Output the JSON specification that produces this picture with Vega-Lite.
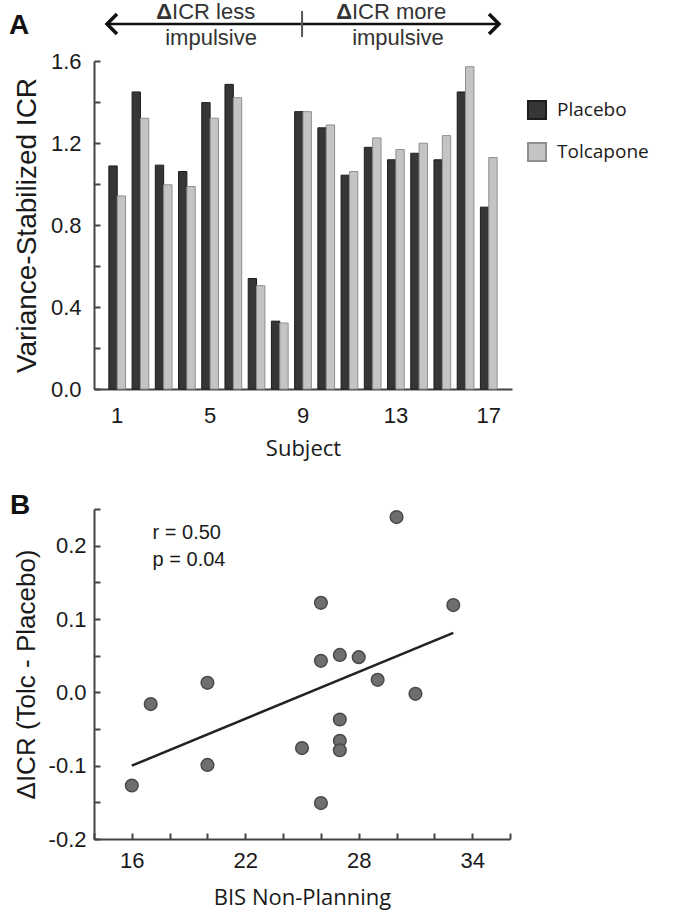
{
  "$schema": "https://vega.github.io/schema/vega-lite/v6.json",
  "background": "white",
  "padding": {"left": 9, "top": 0, "right": 2, "bottom": 2},
  "spacing": 120,
  "bounds": "flush",
  "config": {
    "view": {"stroke": null},
    "axis": {
      "grid": false,
      "domainColor": "#444444",
      "domainWidth": 2,
      "tickColor": "#444444",
      "tickWidth": 2,
      "labelColor": "#1a1a1a",
      "titleColor": "#1a1a1a",
      "titleFontWeight": "normal",
      "labelFont": "Liberation Sans",
      "labelFontSize": 22
    },
    "text": {"font": "Liberation Sans", "color": "#1a1a1a"}
  },
  "vconcat": [
    {
      "width": 418,
      "height": 328,
      "resolve": {"scale": {"x": "independent", "y": "independent"}},
      "layer": [
        {
          "data": {
            "values": [
              {"subject": 1, "treatment": "Placebo", "value": 1.088},
              {"subject": 1, "treatment": "Tolcapone", "value": 0.942},
              {"subject": 2, "treatment": "Placebo", "value": 1.449},
              {"subject": 2, "treatment": "Tolcapone", "value": 1.321},
              {"subject": 3, "treatment": "Placebo", "value": 1.092},
              {"subject": 3, "treatment": "Tolcapone", "value": 0.996},
              {"subject": 4, "treatment": "Placebo", "value": 1.061},
              {"subject": 4, "treatment": "Tolcapone", "value": 0.988},
              {"subject": 5, "treatment": "Placebo", "value": 1.397},
              {"subject": 5, "treatment": "Tolcapone", "value": 1.321},
              {"subject": 6, "treatment": "Placebo", "value": 1.486},
              {"subject": 6, "treatment": "Tolcapone", "value": 1.421},
              {"subject": 7, "treatment": "Placebo", "value": 0.539},
              {"subject": 7, "treatment": "Tolcapone", "value": 0.504},
              {"subject": 8, "treatment": "Placebo", "value": 0.331},
              {"subject": 8, "treatment": "Tolcapone", "value": 0.322},
              {"subject": 9, "treatment": "Placebo", "value": 1.353},
              {"subject": 9, "treatment": "Tolcapone", "value": 1.353},
              {"subject": 10, "treatment": "Placebo", "value": 1.274},
              {"subject": 10, "treatment": "Tolcapone", "value": 1.288},
              {"subject": 11, "treatment": "Placebo", "value": 1.043},
              {"subject": 11, "treatment": "Tolcapone", "value": 1.061},
              {"subject": 12, "treatment": "Placebo", "value": 1.179},
              {"subject": 12, "treatment": "Tolcapone", "value": 1.225},
              {"subject": 13, "treatment": "Placebo", "value": 1.118},
              {"subject": 13, "treatment": "Tolcapone", "value": 1.168},
              {"subject": 14, "treatment": "Placebo", "value": 1.150},
              {"subject": 14, "treatment": "Tolcapone", "value": 1.199},
              {"subject": 15, "treatment": "Placebo", "value": 1.118},
              {"subject": 15, "treatment": "Tolcapone", "value": 1.236},
              {"subject": 16, "treatment": "Placebo", "value": 1.449},
              {"subject": 16, "treatment": "Tolcapone", "value": 1.572},
              {"subject": 17, "treatment": "Placebo", "value": 0.887},
              {"subject": 17, "treatment": "Tolcapone", "value": 1.129}
            ]
          },
          "mark": {"type": "bar", "strokeWidth": 1},
          "encoding": {
            "x": {
              "field": "subject",
              "type": "ordinal",
              "scale": {"paddingInner": 0.28, "paddingOuter": 0.64},
              "axis": {
                "values": [1, 5, 9, 13, 17],
                "labelAngle": 0,
                "ticks": false,
                "labelPadding": 16,
                "title": "Subject",
                "titleFont": "Open Sans",
                "titleFontSize": 22,
                "titlePadding": 12
              }
            },
            "xOffset": {
              "field": "treatment",
              "type": "nominal",
              "scale": {"domain": ["Placebo", "Tolcapone"], "paddingInner": 0, "paddingOuter": 0}
            },
            "y": {
              "field": "value",
              "type": "quantitative",
              "scale": {"domain": [0, 1.6], "nice": false},
              "axis": {
                "values": [0, 0.2, 0.4, 0.6, 0.8, 1.0, 1.2, 1.4, 1.6],
                "labelExpr": "round(datum.value*10) % 4 == 0 ? format(datum.value, '.1f') : ''",
                "tickSize": -6,
                "labelPadding": 19,
                "title": "Variance-Stabilized ICR",
                "titleFont": "Liberation Sans",
                "titleFontSize": 28,
                "titlePadding": 9
              }
            },
            "fill": {
              "field": "treatment",
              "type": "nominal",
              "scale": {"domain": ["Placebo", "Tolcapone"], "range": ["#363636", "#c4c4c4"]},
              "legend": {
                "title": null,
                "orient": "none",
                "legendX": 433,
                "legendY": 39,
                "padding": 0,
                "symbolType": "square",
                "symbolSize": 324,
                "symbolStrokeWidth": 2,
                "labelFont": "Open Sans",
                "labelFontSize": 19,
                "labelColor": "#1a1a1a",
                "labelOffset": 10,
                "rowPadding": 16
              }
            },
            "stroke": {
              "field": "treatment",
              "type": "nominal",
              "scale": {"domain": ["Placebo", "Tolcapone"], "range": ["#1c1c1c", "#8f8f8f"]},
              "legend": {
                "title": null,
                "orient": "none",
                "legendX": 433,
                "legendY": 39,
                "padding": 0,
                "symbolType": "square",
                "symbolSize": 324,
                "symbolStrokeWidth": 2,
                "labelFont": "Open Sans",
                "labelFontSize": 19,
                "labelColor": "#1a1a1a",
                "labelOffset": 10,
                "rowPadding": 16
              }
            }
          }
        },
        {
          "encoding": {
            "x": {"field": "hx", "type": "quantitative", "scale": {"domain": [0, 18], "nice": false, "zero": false}, "axis": null},
            "y": {"field": "hy", "type": "quantitative", "scale": {"domain": [0, 1.6], "nice": false, "zero": false}, "axis": null}
          },
          "layer": [
            {
              "data": {"values": [{"hx": 0.56, "hx2": 17.44, "hy": 1.78, "hy2": 1.78}]},
              "mark": {"type": "rule", "strokeWidth": 2.5, "color": "#111111"},
              "encoding": {"x2": {"field": "hx2"}, "y2": {"field": "hy2"}}
            },
            {
              "data": {"values": [{"hx": 8.96, "hx2": 8.96, "hy": 1.717, "hy2": 1.844}]},
              "mark": {"type": "rule", "strokeWidth": 2, "color": "#555555"},
              "encoding": {"x2": {"field": "hx2"}, "y2": {"field": "hy2"}}
            },
            {
              "data": {"values": [{"hx": 0.56, "hy": 1.78}]},
              "mark": {"type": "point", "shape": "M 1 -1 L 0 0 L 1 1", "size": 400, "filled": false, "strokeWidth": 3.5, "color": "#111111", "opacity": 1}
            },
            {
              "data": {"values": [{"hx": 17.44, "hy": 1.78}]},
              "mark": {"type": "point", "shape": "M -1 -1 L 0 0 L -1 1", "size": 400, "filled": false, "strokeWidth": 3.5, "color": "#111111", "opacity": 1}
            },
            {
              "data": {"values": [{"hx": 3.36, "hy": 1.805, "t": "Δ"}, {"hx": 11.11, "hy": 1.805, "t": "Δ"}]},
              "mark": {"type": "text", "align": "right", "baseline": "alphabetic", "fontSize": 22, "fontWeight": "bold", "color": "#333333"},
              "encoding": {"text": {"field": "t"}}
            },
            {
              "data": {"values": [{"hx": 3.36, "hy": 1.805, "t": "ICR less"}, {"hx": 11.11, "hy": 1.805, "t": "ICR more"}]},
              "mark": {"type": "text", "align": "left", "baseline": "alphabetic", "fontSize": 22, "color": "#333333"},
              "encoding": {"text": {"field": "t"}}
            },
            {
              "data": {"values": [{"hx": 5.04, "hy": 1.68, "t": "impulsive"}, {"hx": 13.09, "hy": 1.68, "t": "impulsive"}]},
              "mark": {"type": "text", "align": "center", "baseline": "alphabetic", "fontSize": 22, "color": "#333333"},
              "encoding": {"text": {"field": "t"}}
            },
            {
              "data": {"values": [{"hx": -3.66, "hy": 1.732, "t": "A"}]},
              "mark": {"type": "text", "align": "left", "baseline": "alphabetic", "fontSize": 28, "fontWeight": "bold", "color": "#111111"},
              "encoding": {"text": {"field": "t"}}
            }
          ]
        }
      ]
    },
    {
      "width": 416,
      "height": 330,
      "encoding": {
        "x": {
          "field": "bis",
          "type": "quantitative",
          "scale": {"domain": [14, 36], "nice": false, "zero": false},
          "axis": {
            "values": [14, 16, 18, 20, 22, 24, 26, 28, 30, 32, 34, 36],
            "labelExpr": "(datum.value - 16) % 6 == 0 ? datum.label : ''",
            "tickSize": -6,
            "labelPadding": 17,
            "title": "BIS Non-Planning",
            "titleFont": "Open Sans",
            "titleFontSize": 22,
            "titlePadding": 16
          }
        },
        "y": {
          "field": "d",
          "type": "quantitative",
          "scale": {"domain": [-0.2, 0.25], "nice": false, "zero": false},
          "axis": {
            "values": [-0.2, -0.15, -0.1, -0.05, 0, 0.05, 0.1, 0.15, 0.2, 0.25],
            "labelExpr": "abs(round(datum.value*100)) % 10 == 0 ? (datum.value < -0.001 ? '-' : '') + format(abs(datum.value), '.1f') : ''",
            "tickSize": -6,
            "labelPadding": 14,
            "title": "ΔICR (Tolc - Placebo)",
            "titleFont": "Liberation Sans",
            "titleFontSize": 26,
            "titlePadding": 9
          }
        }
      },
      "layer": [
        {
          "data": {"values": [{"bis": 16, "d": -0.1}, {"bis": 33, "d": 0.081}]},
          "mark": {"type": "line", "color": "#222222", "strokeWidth": 2.5},
          "encoding": {}
        },
        {
          "data": {
            "values": [
              {"bis": 16, "d": -0.127},
              {"bis": 17, "d": -0.016},
              {"bis": 20, "d": 0.013},
              {"bis": 20, "d": -0.099},
              {"bis": 25, "d": -0.076},
              {"bis": 26, "d": 0.043},
              {"bis": 26, "d": -0.151},
              {"bis": 26, "d": 0.122},
              {"bis": 27, "d": 0.051},
              {"bis": 27, "d": -0.037},
              {"bis": 27, "d": -0.066},
              {"bis": 27, "d": -0.079},
              {"bis": 28, "d": 0.048},
              {"bis": 29, "d": 0.017},
              {"bis": 30, "d": 0.239},
              {"bis": 31, "d": -0.002},
              {"bis": 33, "d": 0.119}
            ]
          },
          "mark": {"type": "circle", "size": 160, "fill": "#6e6e6e", "stroke": "#4a4a4a", "strokeWidth": 1.5, "opacity": 1}
        },
        {
          "data": {"values": [{"bis": 17.1, "d": 0.209, "label": "r = 0.50"}, {"bis": 17.1, "d": 0.172, "label": "p = 0.04"}]},
          "mark": {"type": "text", "align": "left", "baseline": "alphabetic", "fontSize": 20, "color": "#1a1a1a"},
          "encoding": {"text": {"field": "label"}}
        },
        {
          "data": {"values": [{"bis": 9.56, "d": 0.243, "label": "B"}]},
          "mark": {"type": "text", "align": "left", "baseline": "alphabetic", "fontSize": 28, "fontWeight": "bold", "color": "#111111"},
          "encoding": {"text": {"field": "label"}}
        }
      ]
    }
  ]
}
